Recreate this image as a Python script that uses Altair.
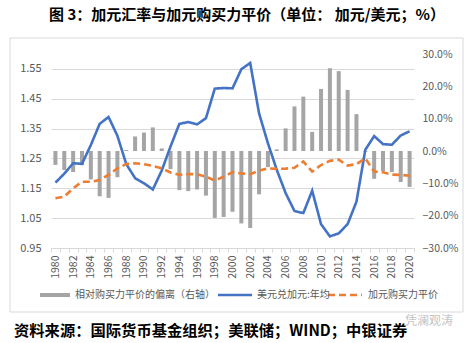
import altair as alt
import pandas as pd

years = list(range(1980, 2021))
usdcad = [1.169, 1.199, 1.234, 1.232, 1.295, 1.366, 1.389, 1.326, 1.231, 1.184,
          1.167, 1.146, 1.209, 1.290, 1.366, 1.372, 1.364, 1.385, 1.484, 1.486,
          1.485, 1.549, 1.570, 1.401, 1.301, 1.212, 1.134, 1.074, 1.067, 1.142,
          1.030, 0.989, 0.999, 1.030, 1.105, 1.279, 1.325, 1.298, 1.296, 1.327, 1.341]
ppp = [1.117, 1.122, 1.150, 1.172, 1.172, 1.178, 1.195, 1.217, 1.231, 1.234,
       1.231, 1.225, 1.217, 1.203, 1.195, 1.198, 1.197, 1.189, 1.176, 1.189,
       1.204, 1.200, 1.197, 1.209, 1.217, 1.215, 1.216, 1.219, 1.240, 1.206,
       1.228, 1.242, 1.246, 1.226, 1.231, 1.250, 1.206, 1.204, 1.196, 1.195, 1.192]
deviation_pct = [-4.3, -5.9, -6.5, -4.4, -8.8, -14.0, -14.5, -8.1, 0.3, 4.5,
                 5.7, 7.3, 0.8, -5.6, -12.1, -12.4, -11.9, -13.8, -20.7, -20.4,
                 -18.8, -22.4, -23.8, -13.4, -5.0, 0.5, 7.0, 13.8, 16.8, 5.9,
                 19.2, 25.6, 24.7, 18.9, 11.4, -0.3, -8.6, -6.2, -6.5, -9.6, -11.1]
series_names = ["美元兑加元:年均", "加元购买力平价"]
bar_name = "相对购买力平价的偏离（右轴）"
left_ticks = [0.95, 1.05, 1.15, 1.25, 1.35, 1.45, 1.55]
right_ticks = [-0.3, -0.2, -0.1, 0.0, 0.1, 0.2, 0.3]
title_text = "图 3：加元汇率与加元购买力平价（单位：   加元/美元；%）"
source_text = "资料来源：国际货币基金组织；美联储；WIND；中银证券"
watermark = "凭澜观涛"

FONT = "Noto Sans CJK SC"
GRAY_TXT = "#595959"
W, H = 363, 194
PL, PT = 51, 54

bar_df = pd.DataFrame({"year": years, "dev": [d / 100 for d in deviation_pct]})
line_df = pd.DataFrame({
    "year": years * 2,
    "value": usdcad + ppp,
    "series": [series_names[0]] * len(years) + [series_names[1]] * len(years),
})
one = pd.DataFrame({"a": [0]})

x_axis = alt.Axis(
    values=years, labelExpr="datum.value % 2 == 0 ? datum.label : ''",
    labelAngle=270, labelFontSize=10.5, labelColor=GRAY_TXT, labelFont=FONT,
    domainColor="#d9d9d9", tickColor="#d9d9d9", tickSize=4, tickBand="extent",
    labelPadding=3, title=None, grid=False,
)
xenc = alt.X("year:O", scale=alt.Scale(paddingInner=0, paddingOuter=0), axis=x_axis)

bars = alt.Chart(bar_df).mark_bar(color="#A5A5A5", size=4).encode(
    x=xenc,
    y=alt.Y("dev:Q", scale=alt.Scale(domain=[-0.3, 0.3], nice=False, zero=False),
            axis=alt.Axis(orient="right", values=right_ticks, format=".1%", grid=False,
                          domain=False, ticks=False, labelPadding=8, labelFontSize=10.5,
                          labelColor=GRAY_TXT, labelFont=FONT, title=None)),
)

lines = alt.Chart(line_df).mark_line(strokeWidth=2.6).encode(
    x=alt.X("year:O"),
    y=alt.Y("value:Q", scale=alt.Scale(domain=[0.95, 1.60], nice=False, zero=False),
            axis=alt.Axis(orient="left", values=left_ticks, format=".2f", grid=True,
                          gridColor="#d9d9d9", domain=False, ticks=False, labelPadding=10,
                          labelFontSize=11, labelColor=GRAY_TXT, labelFont=FONT, title=None)),
    color=alt.Color("series:N", scale=alt.Scale(domain=series_names, range=["#4472C4", "#ED7D31"]), legend=None),
    strokeDash=alt.StrokeDash("series:N", scale=alt.Scale(domain=series_names, range=[[1, 0], [7, 4]]), legend=None),
)

def txt(text, x, y, size, color, weight="normal", align="left"):
    return alt.Chart(one).mark_text(text=text, font=FONT, fontSize=size, color=color,
                                    fontWeight=weight, align=align, baseline="middle").encode(
        x=alt.value(x), y=alt.value(y))

box = alt.Chart(one).mark_rect(fillOpacity=0, stroke="#d9d9d9", strokeWidth=1).encode(
    x=alt.value(10 - PL), x2=alt.value(463 - PL), y=alt.value(38 - PT), y2=alt.value(312 - PT))

ly = 295 - PT
leg_bar = alt.Chart(one).mark_rule(color="#A5A5A5", strokeWidth=4).encode(
    x=alt.value(40 - PL), x2=alt.value(70 - PL), y=alt.value(ly))
leg_blue = alt.Chart(one).mark_rule(color="#4472C4", strokeWidth=2.6).encode(
    x=alt.value(218 - PL), x2=alt.value(252 - PL), y=alt.value(ly))
leg_orange = alt.Chart(one).mark_rule(color="#ED7D31", strokeWidth=2.6, strokeDash=[7, 4]).encode(
    x=alt.value(328 - PL), x2=alt.value(362 - PL), y=alt.value(ly))

decor = [
    box,
    txt(title_text, 247 - PL, 15 - PT, 15, "#000000", "bold", "center"),
    leg_bar, leg_blue, leg_orange,
    txt(bar_name, 75 - PL, ly, 10, GRAY_TXT),
    txt(series_names[0], 257 - PL, ly, 10, GRAY_TXT),
    txt(series_names[1], 368 - PL, ly, 10, GRAY_TXT),
    txt(source_text, 14 - PL, 331 - PT, 15.3, "#000000", "bold"),
    txt(watermark, 405 - PL, 321 - PT, 12, "#c4c4c4"),
]

chart = alt.layer(bars, lines, *decor).resolve_scale(
    y="independent", color="independent", strokeDash="independent"
).properties(
    width=W, height=H,
    padding={"left": PL, "top": PT, "right": 474 - PL - W, "bottom": 343 - PT - H},
    autosize=alt.AutoSizeParams(type="none"),
    background="white",
).configure_view(stroke=None)

chart.save("out.html", embed_options={"renderer": "svg", "actions": False})
